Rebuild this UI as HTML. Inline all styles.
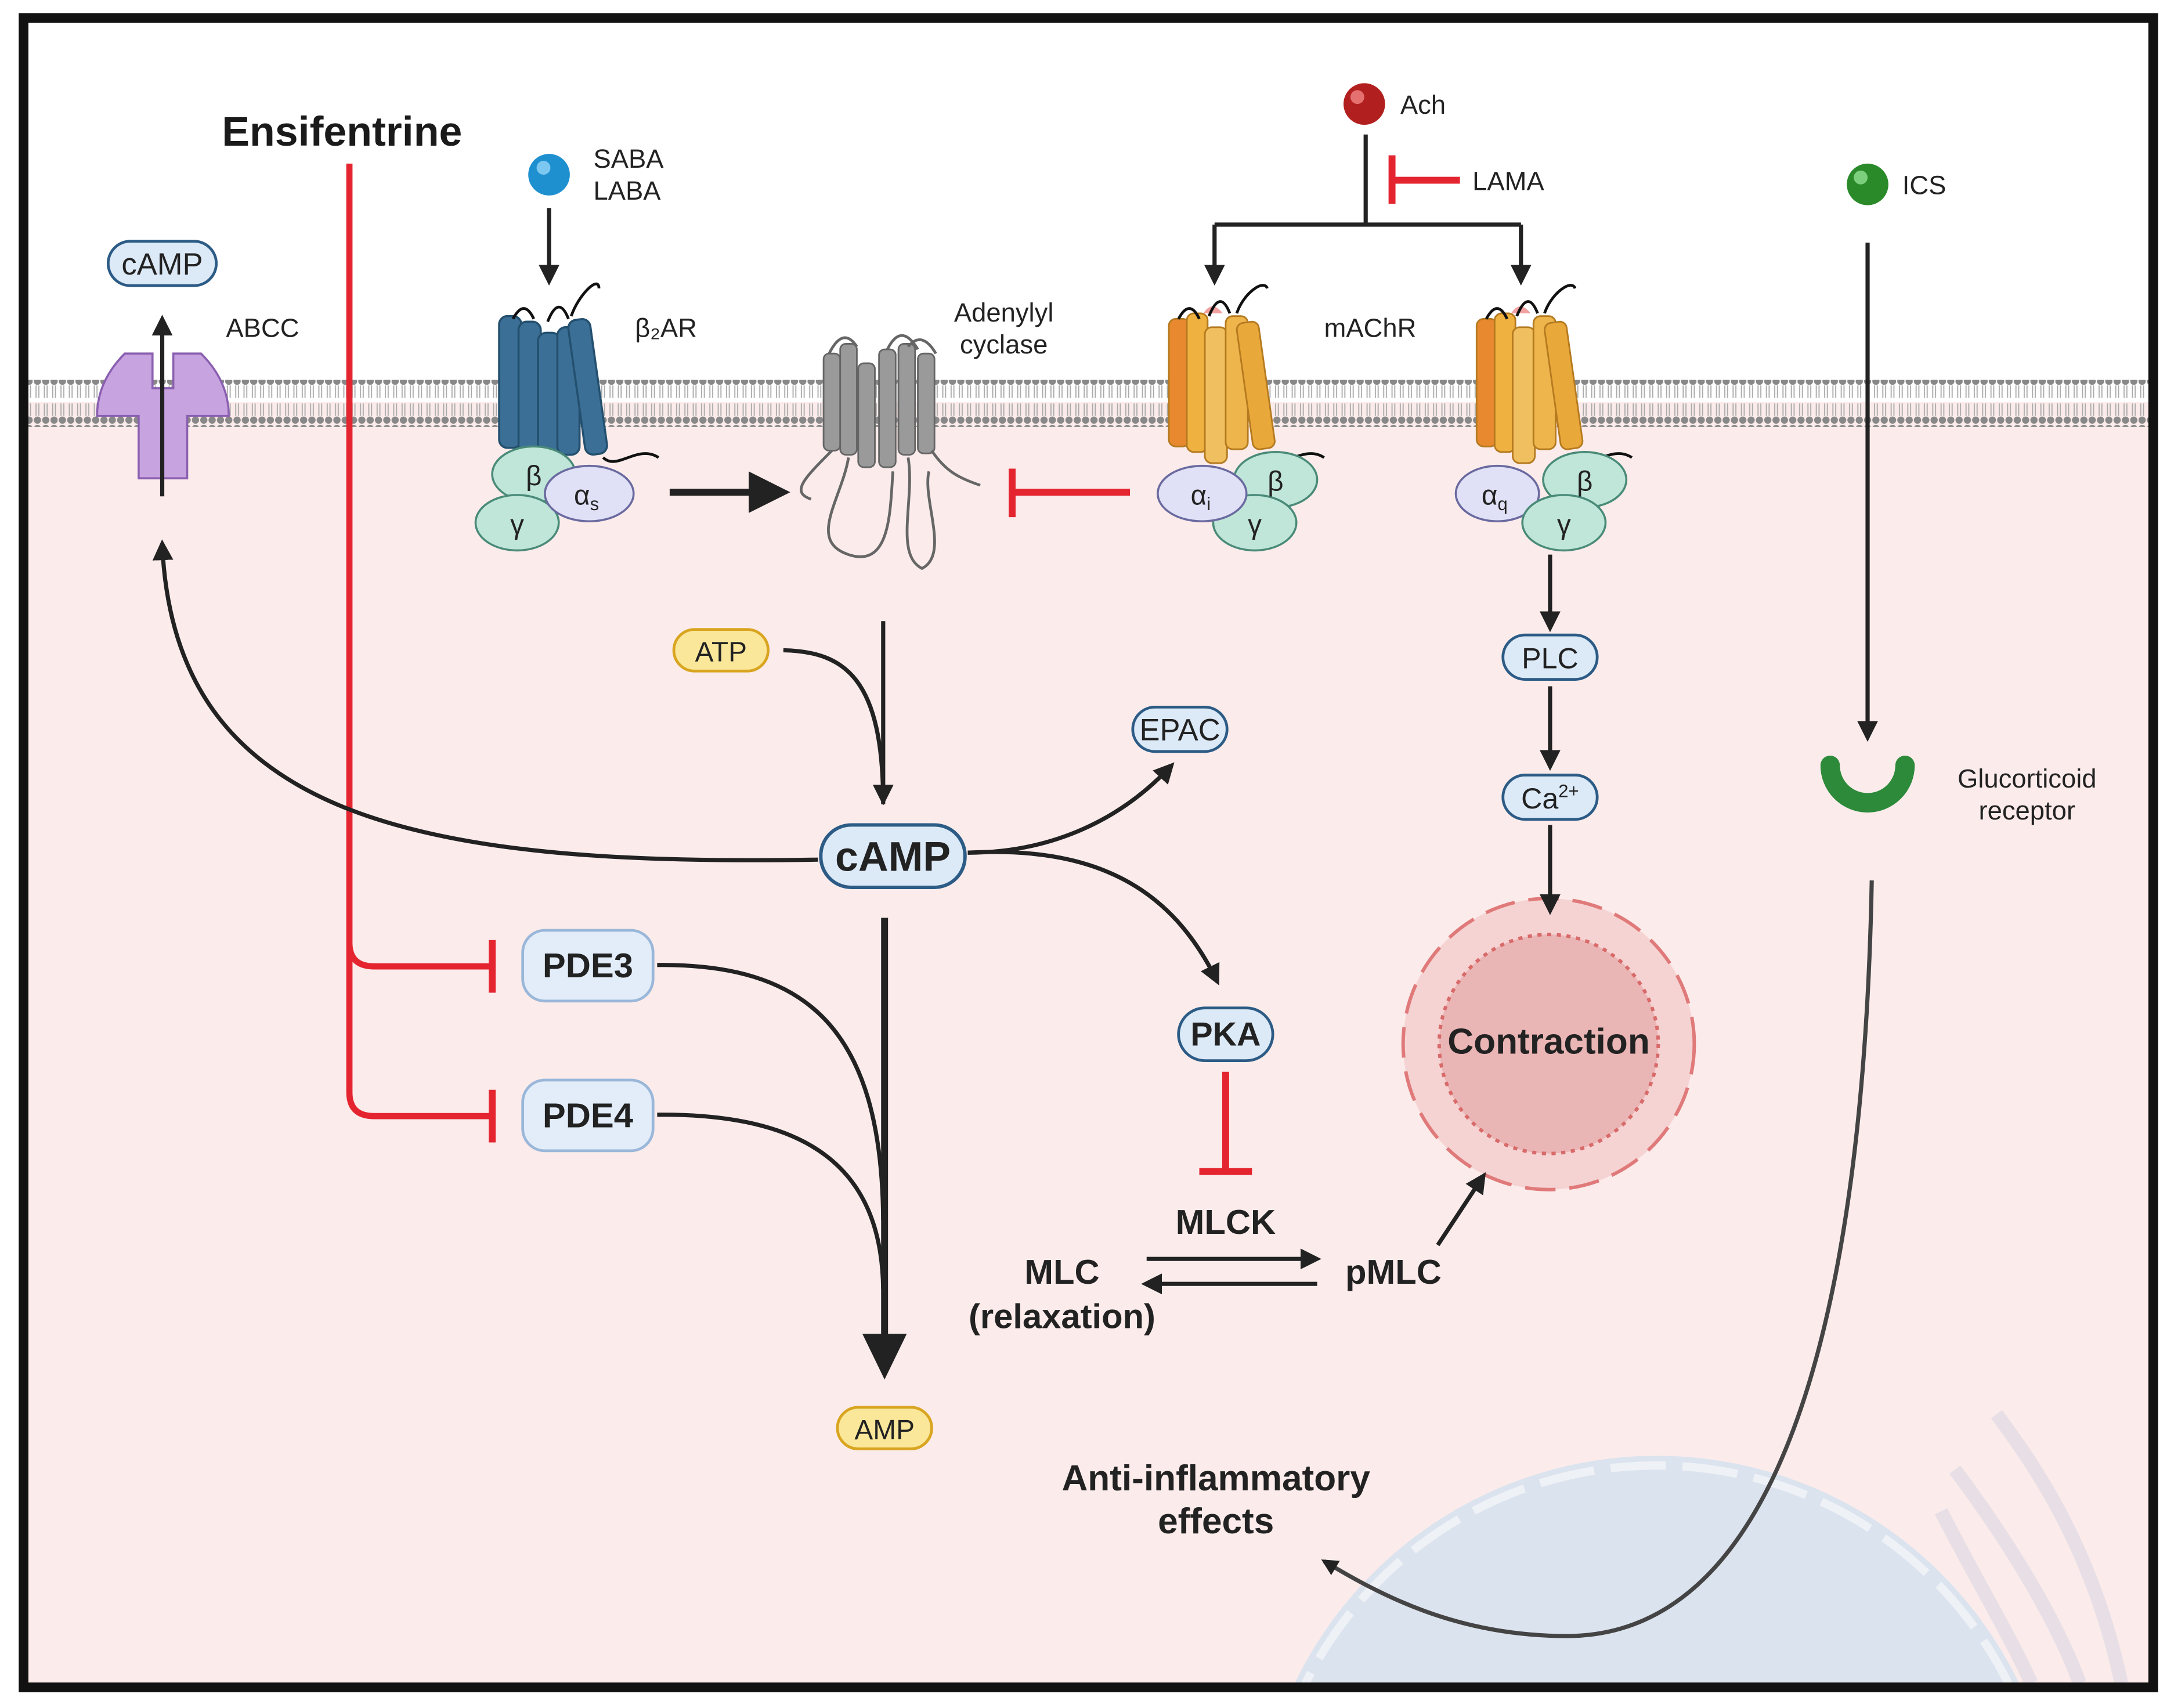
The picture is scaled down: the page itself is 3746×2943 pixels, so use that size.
<!DOCTYPE html>
<html><head><meta charset="utf-8"><style>
html,body{margin:0;padding:0;background:#fff;width:3746px;height:2943px;overflow:hidden;}
svg{display:block;}
text{font-family:"Liberation Sans",sans-serif;}
</style></head><body>
<svg width="3746" height="2943" viewBox="0 0 1568 1231.9" preserveAspectRatio="none" xmlns="http://www.w3.org/2000/svg">
<defs>
<marker id="ah" viewBox="0 0 10 10" refX="8" refY="5" markerWidth="5" markerHeight="5" orient="auto"><path d="M0,0 L10,5 L0,10 z" fill="#222"/></marker>
<marker id="ahb" viewBox="0 0 10 10" refX="8" refY="5" markerWidth="4" markerHeight="4" orient="auto"><path d="M0,0 L10,5 L0,10 z" fill="#222"/></marker>
<pattern id="lip" width="6" height="34" patternUnits="userSpaceOnUse">
<circle cx="3" cy="3" r="2.6" fill="#888"/>
<line x1="2" y1="6" x2="2" y2="15" stroke="#aaa" stroke-width="0.8"/>
<line x1="4" y1="6" x2="4" y2="15" stroke="#aaa" stroke-width="0.8"/>
<line x1="2" y1="19" x2="2" y2="28" stroke="#aaa" stroke-width="0.8"/>
<line x1="4" y1="19" x2="4" y2="28" stroke="#aaa" stroke-width="0.8"/>
<circle cx="3" cy="31" r="2.6" fill="#888"/>
</pattern>
<clipPath id="cl"><rect x="20" y="16" width="1530" height="1198"/></clipPath>
</defs>
<rect x="0" y="0" width="1568" height="1232" fill="#fff"/>
<rect x="20" y="16" width="1530" height="1198" fill="#fff"/>
<rect x="20" y="290" width="1530" height="924" fill="#fbeceb"/>
<g clip-path="url(#cl)">
<circle cx="1195" cy="1340" r="290" fill="#dbe3ee"/>
<circle cx="1195" cy="1340" r="283" fill="none" stroke="#eef1f6" stroke-width="6" stroke-dasharray="40 12"/>
<path d="M1440,1020 C1470,1060 1510,1120 1530,1214 M1410,1060 C1440,1100 1480,1160 1500,1214 M1400,1090 C1420,1130 1450,1180 1465,1214" stroke="#e8dfe6" stroke-width="10" fill="none"/>
</g>
<rect x="20" y="274" width="1530" height="34" fill="url(#lip)"/>
<rect x="17" y="13" width="1536" height="1204" fill="none" stroke="#111" stroke-width="7"/>

<text x="160" y="105" font-size="30" font-weight="bold" fill="#1a1a1a">Ensifentrine</text>
<path d="M252,118 V680 Q252,697 270,697 H355 M252,680 V788 Q252,805 270,805 H355" stroke="#e42530" stroke-width="4.5" fill="none"/>
<path d="M355,678 V716 M355,786 V824" stroke="#e42530" stroke-width="5"/>

<circle cx="396" cy="126" r="15" fill="#1e90d0"/><circle cx="392" cy="121" r="5" fill="#7cc8f0"/>
<text x="428" y="121" font-size="19" fill="#222">SABA</text><text x="428" y="144" font-size="19" fill="#222">LABA</text>
<line x1="396" y1="150" x2="396" y2="203" stroke="#222" stroke-width="3" marker-end="url(#ah)"/>
<text x="458" y="243" font-size="19" fill="#222">β₂AR</text>
<g fill="#3b6f96" stroke="#24506f" stroke-width="1.5">
<rect x="360" y="228" width="16" height="95" rx="6"/><rect x="374" y="232" width="16" height="100" rx="6"/><rect x="388" y="240" width="16" height="95" rx="6"/><rect x="402" y="236" width="16" height="92" rx="6"/><rect x="416" y="230" width="16" height="98" rx="6" transform="rotate(-8 424 280)"/>
</g>
<path d="M370,230 q8,-15 15,0 M395,232 q8,-20 15,-2 M412,228 c5,-15 20,-30 20,-20" stroke="#111" stroke-width="2" fill="none"/>
<path d="M435,330 c10,10 25,-10 40,0" stroke="#111" stroke-width="2" fill="none"/>
<ellipse cx="385" cy="342" rx="30" ry="20" fill="#bfe6d8" stroke="#4a8a78" stroke-width="1.5"/>
<ellipse cx="373" cy="377" rx="30" ry="20" fill="#bfe6d8" stroke="#4a8a78" stroke-width="1.5"/>
<ellipse cx="425" cy="356" rx="32" ry="20" fill="#e0e0f6" stroke="#6a6aa0" stroke-width="1.5"/>
<text x="385" y="350" font-size="20" text-anchor="middle" fill="#222">β</text>
<text x="373" y="385" font-size="20" text-anchor="middle" fill="#222">γ</text>
<text x="423" y="364" font-size="20" text-anchor="middle" fill="#222">α<tspan font-size="13" dy="4">s</tspan></text>
<line x1="483" y1="355" x2="545" y2="355" stroke="#222" stroke-width="5"/>
<path d="M540,340 L570,355 L540,370z" fill="#222"/>

<text x="724" y="232" font-size="19" text-anchor="middle" fill="#222">Adenylyl</text>
<text x="724" y="255" font-size="19" text-anchor="middle" fill="#222">cyclase</text>
<g fill="#9a9a9a" stroke="#666" stroke-width="1.2">
<rect x="594" y="255" width="12" height="70" rx="4"/><rect x="606" y="248" width="12" height="80" rx="4"/><rect x="619" y="262" width="12" height="75" rx="4"/><rect x="634" y="252" width="12" height="85" rx="4"/><rect x="648" y="248" width="12" height="80" rx="4"/><rect x="662" y="255" width="12" height="72" rx="4"/>
</g>
<path d="M598,255 q10,-20 20,-5 M640,252 q10,-20 22,0 M655,250 q10,-12 20,5" stroke="#666" stroke-width="2" fill="none"/>
<path d="M600,325 c-20,20 -30,30 -15,35 M612,330 c-5,30 -30,60 0,70 c30,10 30,-30 32,-60 M655,330 c5,30 -10,70 10,80 c20,-10 0,-50 5,-70 M672,325 c10,15 20,20 35,25" stroke="#666" stroke-width="2" fill="none"/>
<path d="M815,355 H730 M730,338 V373" stroke="#e42530" stroke-width="5" fill="none"/>

<circle cx="984" cy="75" r="15" fill="#b21f1f"/><circle cx="979" cy="70" r="5" fill="#e57070"/>
<text x="1010" y="82" font-size="19" fill="#222">Ach</text>
<path d="M985,97 V162 M876,162 H1097" stroke="#222" stroke-width="3" fill="none"/>
<line x1="876" y1="162" x2="876" y2="203" stroke="#222" stroke-width="3" marker-end="url(#ah)"/>
<line x1="1097" y1="162" x2="1097" y2="203" stroke="#222" stroke-width="3" marker-end="url(#ah)"/>
<path d="M1004,112 V147 M1004,130 H1053" stroke="#e42530" stroke-width="5" fill="none"/>
<text x="1062" y="137" font-size="19" fill="#222">LAMA</text>
<text x="955" y="243" font-size="19" fill="#222">mAChR</text>

<g id="mr">
<g stroke="#b57a20" stroke-width="1.2">
<rect x="843" y="230" width="15" height="92" rx="5" fill="#e8892f"/><rect x="856" y="226" width="15" height="100" rx="5" fill="#efb13f"/><rect x="869" y="236" width="16" height="98" rx="5" fill="#f0c060"/><rect x="884" y="228" width="16" height="96" rx="5" fill="#edb54b"/><rect x="898" y="232" width="16" height="92" rx="5" fill="#e8a83a" transform="rotate(-8 906 280)"/>
</g>
<path d="M868,226 q6,-10 14,0" fill="#f2a0a0" stroke="none"/>
<path d="M850,230 q8,-15 15,0 M872,228 q8,-20 15,-2 M892,226 c5,-15 20,-25 22,-18" stroke="#111" stroke-width="2" fill="none"/>
<path d="M915,330 c10,10 25,-10 40,0" stroke="#111" stroke-width="2" fill="none"/>
</g>
<use href="#mr" transform="translate(222,0)"/>
<ellipse cx="920" cy="346" rx="30" ry="20" fill="#bfe6d8" stroke="#4a8a78" stroke-width="1.5"/>
<ellipse cx="905" cy="377" rx="30" ry="20" fill="#bfe6d8" stroke="#4a8a78" stroke-width="1.5"/>
<ellipse cx="867" cy="356" rx="32" ry="20" fill="#e0e0f6" stroke="#6a6aa0" stroke-width="1.5"/>
<text x="920" y="354" font-size="20" text-anchor="middle" fill="#222">β</text>
<text x="905" y="385" font-size="20" text-anchor="middle" fill="#222">γ</text>
<text x="866" y="364" font-size="20" text-anchor="middle" fill="#222">α<tspan font-size="13" dy="4">i</tspan></text>
<ellipse cx="1143" cy="346" rx="30" ry="20" fill="#bfe6d8" stroke="#4a8a78" stroke-width="1.5"/>
<ellipse cx="1080" cy="356" rx="30" ry="20" fill="#e0e0f6" stroke="#6a6aa0" stroke-width="1.5"/>
<ellipse cx="1128" cy="377" rx="30" ry="20" fill="#bfe6d8" stroke="#4a8a78" stroke-width="1.5"/>
<text x="1143" y="354" font-size="20" text-anchor="middle" fill="#222">β</text>
<text x="1128" y="385" font-size="20" text-anchor="middle" fill="#222">γ</text>
<text x="1078" y="364" font-size="20" text-anchor="middle" fill="#222">α<tspan font-size="13" dy="4">q</tspan></text>

<line x1="1118" y1="400" x2="1118" y2="453" stroke="#222" stroke-width="3" marker-end="url(#ah)"/>
<rect x="1084" y="458" width="68" height="32" rx="16" fill="#dce9f7" stroke="#2c5b85" stroke-width="2"/>
<text x="1118" y="482" font-size="21" text-anchor="middle" fill="#222">PLC</text>
<line x1="1118" y1="495" x2="1118" y2="553" stroke="#222" stroke-width="3" marker-end="url(#ah)"/>
<rect x="1084" y="559" width="68" height="32" rx="16" fill="#dce9f7" stroke="#2c5b85" stroke-width="2"/>
<text x="1118" y="583" font-size="21" text-anchor="middle" fill="#222">Ca<tspan font-size="13" dy="-8">2+</tspan></text>
<circle cx="1117" cy="753" r="105" fill="#f6d3d3" stroke="#e07a7a" stroke-width="2.5" stroke-dasharray="22 10"/>
<circle cx="1117" cy="753" r="79" fill="#eab5b5" stroke="#d86a6a" stroke-width="2.5" stroke-dasharray="3 4"/>
<line x1="1118" y1="595" x2="1118" y2="657" stroke="#222" stroke-width="3" marker-end="url(#ah)"/>
<text x="1117" y="760" font-size="26" font-weight="bold" text-anchor="middle" fill="#222">Contraction</text>

<circle cx="1347" cy="133" r="15" fill="#2a8a2a"/><circle cx="1342" cy="128" r="5" fill="#7ccf7c"/>
<text x="1372" y="140" font-size="19" fill="#222">ICS</text>
<line x1="1347" y1="175" x2="1347" y2="532" stroke="#222" stroke-width="3" marker-end="url(#ah)"/>
<path d="M1320,552 a27,27 0 0 0 54,0" stroke="#2c8a3a" stroke-width="14" fill="none" stroke-linecap="round"/>
<text x="1462" y="568" font-size="19" text-anchor="middle" fill="#222">Glucorticoid</text>
<text x="1462" y="591" font-size="19" text-anchor="middle" fill="#222">receptor</text>
<path d="M1350,635 C1345,900 1300,1180 1130,1180 C1050,1180 995,1150 955,1126" stroke="#444" stroke-width="3" fill="none" marker-end="url(#ahb)"/>
<text x="877" y="1075" font-size="26" font-weight="bold" text-anchor="middle" fill="#222">Anti-inflammatory</text>
<text x="877" y="1106" font-size="26" font-weight="bold" text-anchor="middle" fill="#222">effects</text>

<rect x="78" y="174" width="78" height="32" rx="16" fill="#dce9f7" stroke="#2c5b85" stroke-width="2"/>
<text x="117" y="198" font-size="22" text-anchor="middle" fill="#222">cAMP</text>
<text x="163" y="243" font-size="19" fill="#222">ABCC</text>
<path d="M90,255 h20 v25 h15 v-25 h20 q20,20 20,45 h-30 v45 h-35 v-45 h-30 q0,-25 20,-45z" fill="#c7a3e0" stroke="#8a5fb0" stroke-width="1.5"/>
<line x1="117" y1="358" x2="117" y2="230" stroke="#222" stroke-width="3" marker-end="url(#ah)"/>
<path d="M590,620 C300,625 125,590 117,392" stroke="#222" stroke-width="3" fill="none" marker-end="url(#ah)"/>

<rect x="486" y="454" width="68" height="30" rx="15" fill="#fbe79a" stroke="#d9a520" stroke-width="2"/>
<text x="520" y="477" font-size="20" text-anchor="middle" fill="#222">ATP</text>
<path d="M565,469 C610,470 637,490 637,580" stroke="#222" stroke-width="3" fill="none"/>
<line x1="637" y1="448" x2="637" y2="578" stroke="#222" stroke-width="3" marker-end="url(#ah)"/>
<path d="M698,615 C760,615 810,590 845,552" stroke="#222" stroke-width="3" fill="none" marker-end="url(#ah)"/>
<rect x="817" y="510" width="68" height="32" rx="16" fill="#dce9f7" stroke="#2c5b85" stroke-width="2"/>
<text x="851" y="534" font-size="22" text-anchor="middle" fill="#222">EPAC</text>
<path d="M698,615 C790,610 845,640 878,708" stroke="#222" stroke-width="3" fill="none" marker-end="url(#ah)"/>
<rect x="592" y="595" width="104" height="45" rx="22" fill="#dce9f7" stroke="#2c5b85" stroke-width="2.5"/>
<text x="644" y="628" font-size="30" font-weight="bold" text-anchor="middle" fill="#222">cAMP</text>

<rect x="850" y="727" width="68" height="38" rx="19" fill="#dce9f7" stroke="#2c5b85" stroke-width="2"/>
<text x="884" y="754" font-size="24" font-weight="bold" text-anchor="middle" fill="#222">PKA</text>
<path d="M884,773 V845 M865,845 H903" stroke="#e42530" stroke-width="5" fill="none"/>
<text x="884" y="890" font-size="25" font-weight="bold" text-anchor="middle" fill="#222">MLCK</text>
<text x="766" y="926" font-size="25" font-weight="bold" text-anchor="middle" fill="#222">MLC</text>
<text x="766" y="958" font-size="25" font-weight="bold" text-anchor="middle" fill="#222">(relaxation)</text>
<line x1="827" y1="908" x2="950" y2="908" stroke="#222" stroke-width="3" marker-end="url(#ah)"/>
<line x1="950" y1="926" x2="826" y2="926" stroke="#222" stroke-width="3" marker-end="url(#ah)"/>
<text x="1005" y="926" font-size="25" font-weight="bold" text-anchor="middle" fill="#222">pMLC</text>
<line x1="1037" y1="898" x2="1070" y2="848" stroke="#222" stroke-width="3" marker-end="url(#ah)"/>

<rect x="377" y="671" width="94" height="51" rx="16" fill="#e2edf9" stroke="#9ab7d9" stroke-width="2"/>
<text x="424" y="705" font-size="25" font-weight="bold" text-anchor="middle" fill="#222">PDE3</text>
<rect x="377" y="779" width="94" height="51" rx="16" fill="#e2edf9" stroke="#9ab7d9" stroke-width="2"/>
<text x="424" y="813" font-size="25" font-weight="bold" text-anchor="middle" fill="#222">PDE4</text>
<path d="M474,696 C580,695 636,740 637,880 M474,804 C580,803 636,840 637,930" stroke="#222" stroke-width="3" fill="none"/>
<line x1="638" y1="662" x2="638" y2="965" stroke="#222" stroke-width="5"/>
<path d="M622,962 L638,995 L654,962z" fill="#222"/>
<rect x="604" y="1015" width="68" height="30" rx="15" fill="#fbe79a" stroke="#d9a520" stroke-width="2"/>
<text x="638" y="1038" font-size="20" text-anchor="middle" fill="#222">AMP</text>
</svg>
</body></html>
